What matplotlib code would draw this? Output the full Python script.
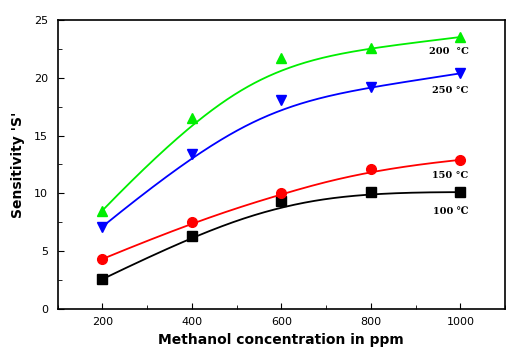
import numpy as np
from matplotlib import pyplot as plt
from matplotlib.ticker import MultipleLocator

# methanol concentration (ppm)
conc = [200, 400, 600, 800, 1000]

# sensitivity at each operating temperature
s100 = [2.55, 6.3, 9.3, 10.1, 10.1]
s150 = [4.3, 7.5, 10.0, 12.1, 12.9]
s200 = [8.5, 16.5, 21.7, 22.6, 23.55]
s250 = [7.1, 13.4, 18.1, 19.2, 20.4]

labels = ['100 \u2103', '150 \u00b0C', '200  \u00b0C', '250 \u00b0C']


def bspline(px, py, deg=3, n=300):
    # clamped B-spline that uses the data points as control points
    px = np.asarray(px, float)
    py = np.asarray(py, float)
    m = len(px)
    inner = np.arange(1, m - deg)
    knots = np.concatenate([np.zeros(deg + 1), inner, np.full(deg + 1, m - deg)])
    t = np.linspace(0, m - deg, n)
    t[-1] -= 1e-9

    def basis(i, k, t):
        if k == 0:
            return ((knots[i] <= t) & (t < knots[i + 1])).astype(float)
        out = np.zeros_like(t)
        d1 = knots[i + k] - knots[i]
        d2 = knots[i + k + 1] - knots[i + 1]
        if d1 > 0:
            out += (t - knots[i]) / d1 * basis(i, k - 1, t)
        if d2 > 0:
            out += (knots[i + k + 1] - t) / d2 * basis(i + 1, k - 1, t)
        return out

    B = np.array([basis(i, deg, t) for i in range(m)])
    return B.T @ px, B.T @ py


fig = plt.figure(figsize=(5.23, 3.56), dpi=100)
ax = fig.add_axes([0.110, 0.133, 0.856, 0.810])

series = [
    (s100, 'black', 's', labels[0], -1.65),
    (s150, 'red', 'o', labels[1], -1.35),
    (s200, '#00ee00', '^', labels[2], -1.25),
    (s250, 'blue', 'v', labels[3], -1.5),
]

for vals, col, mk, lab, off in series:
    cx, cy = bspline(conc, vals, deg=3)
    ax.plot(cx, cy, color=col, lw=1.3)
    ax.plot(conc, vals, linestyle='none', marker=mk, color=col, markersize=7)
    ax.text(conc[-1] + 18, vals[-1] + off, lab, ha='right', va='center',
            fontsize=7, fontweight='bold', family='DejaVu Serif')

ax.set_xlim(100, 1100)
ax.set_ylim(0, 25)
ax.xaxis.set_major_locator(MultipleLocator(200))
ax.xaxis.set_minor_locator(MultipleLocator(100))
ax.yaxis.set_major_locator(MultipleLocator(5))
ax.yaxis.set_minor_locator(MultipleLocator(2.5))
ax.tick_params(which='both', direction='in', labelsize=8)
ax.tick_params(which='major', length=4)
ax.tick_params(which='minor', length=3)
ax.tick_params(axis='x', pad=6)
ax.tick_params(axis='y', pad=7)
for s in ax.spines.values():
    s.set_linewidth(1.2)

ax.set_xlabel('Methanol concentration in ppm', fontsize=10, fontweight='bold')
ax.set_ylabel("Sensitivity 'S'", fontsize=10, fontweight='bold', labelpad=6)

fig.savefig('out.png', dpi=100)
